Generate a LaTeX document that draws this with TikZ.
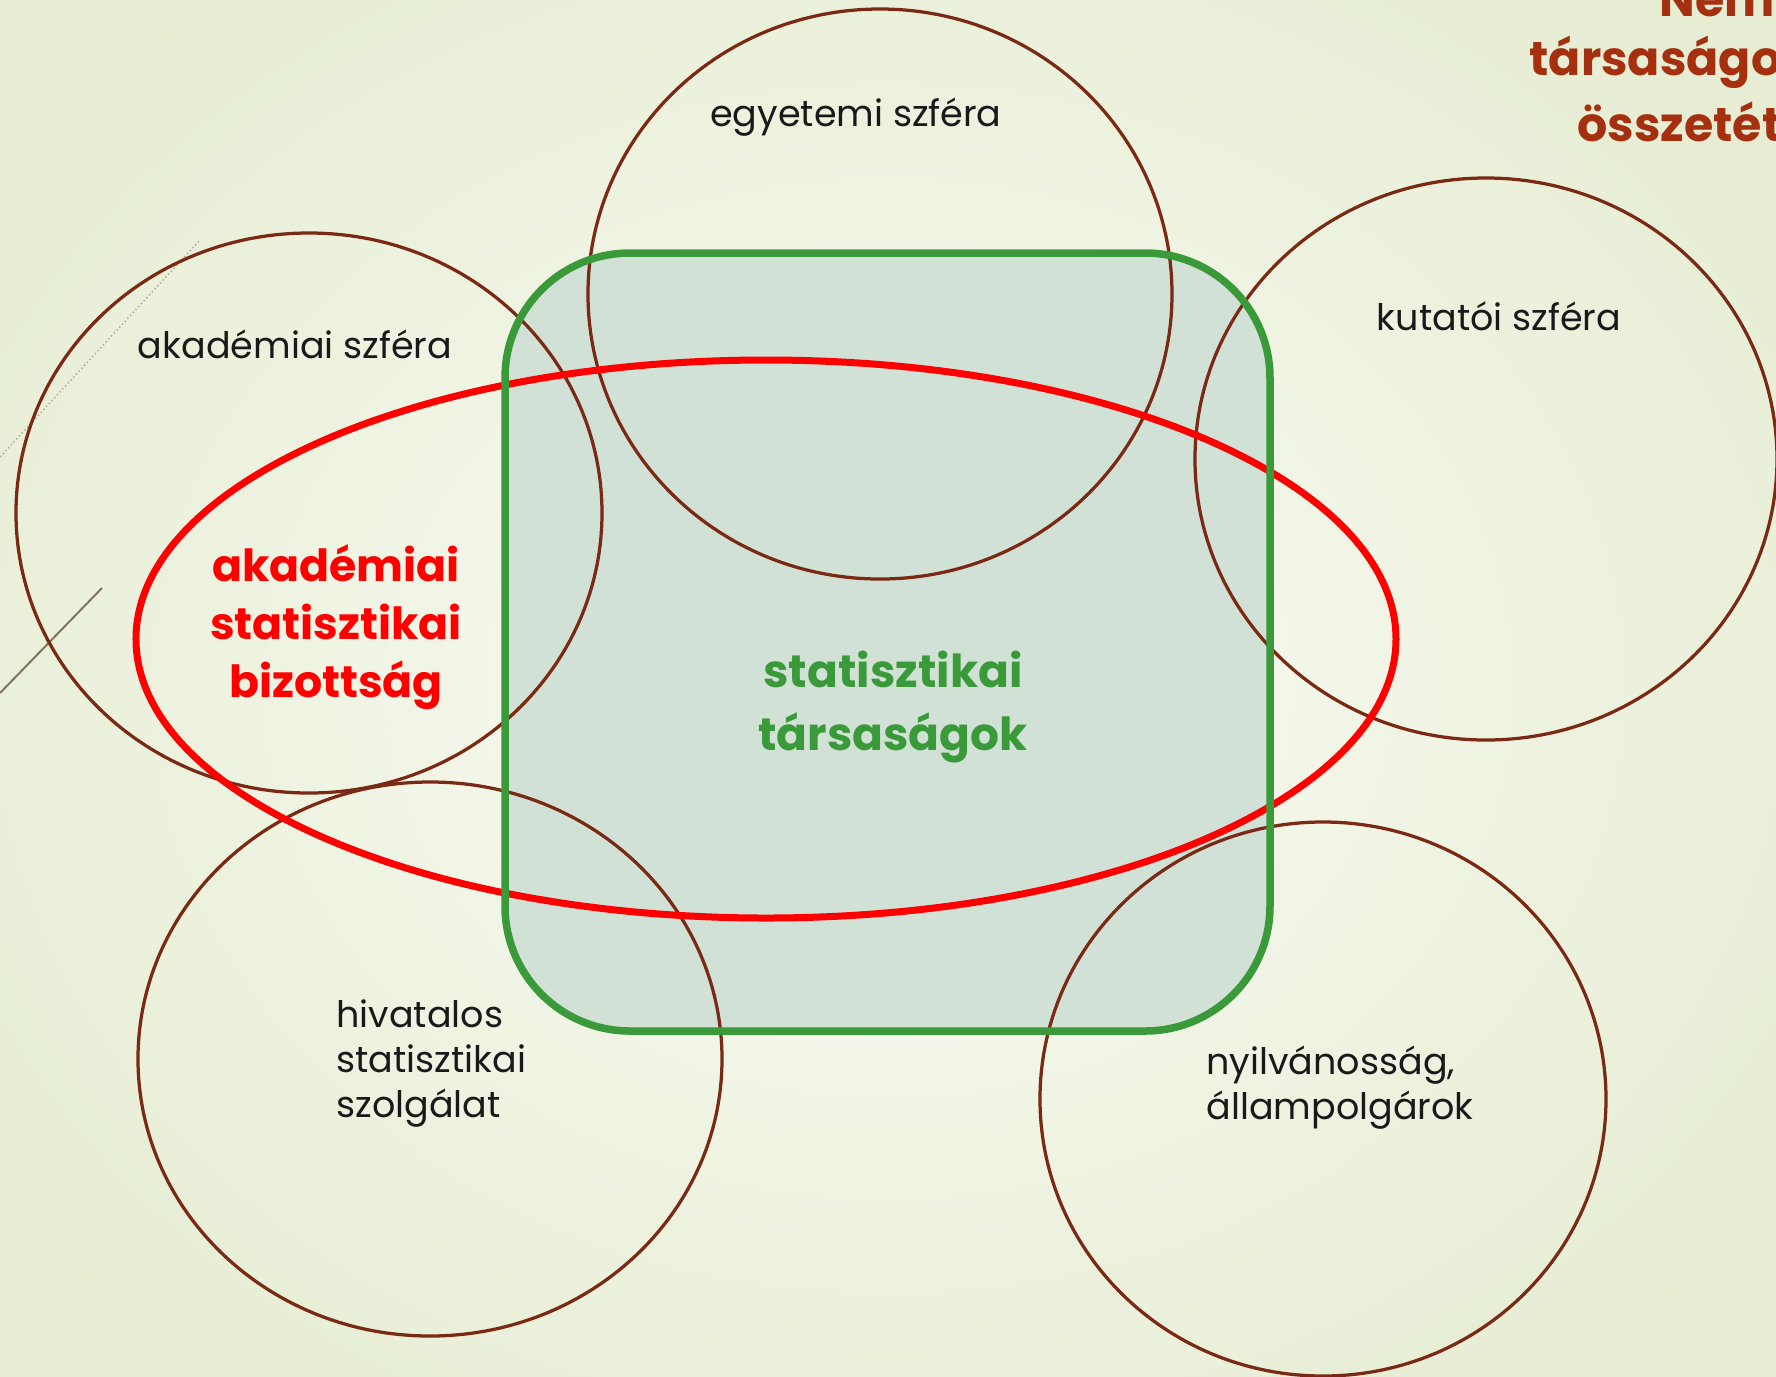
\documentclass[tikz,border=0pt]{standalone}
\usepackage{fontspec}
\setmainfont{Poppins}
\definecolor{bgout}{HTML}{E6EDD3}
\definecolor{bgin}{HTML}{FAFBF4}
\definecolor{circbrown}{HTML}{7A2A14}
\definecolor{setred}{HTML}{FF0000}
\definecolor{socgreen}{HTML}{3A9A3A}
\definecolor{socfill}{HTML}{D1E1D6}
\definecolor{titlebrown}{HTML}{A5300F}
\definecolor{decogray}{HTML}{7E7660}
\tikzset{
  sphere/.style={draw=circbrown, line width=1.3pt},
  plain/.style={font=\fontsize{14.6}{18}\selectfont, text=black!90, inner sep=0pt},
  redlbl/.style={font=\fontsize{17.7}{23.2}\selectfont\bfseries, text=setred, align=center, inner sep=0pt},
  greenlbl/.style={font=\fontsize{18.2}{25.2}\selectfont\bfseries, text=socgreen, align=center, inner sep=0pt},
  titlelbl/.style={font=\fontsize{19}{23.6}\selectfont\bfseries, text=titlebrown, inner sep=0pt, anchor=west},
}
\begin{document}
\begin{tikzpicture}[x=0.4pt,y=-0.4pt]
\useasboundingbox (0,0) rectangle (1776,1376);
% background
\shade[inner color=bgin, outer color=bgout] (-200,-200) rectangle (1976,1576);
% decorative lines at left
\draw[decogray!60, line width=0.6pt, densely dotted] (0,457) -- (200,240);
\draw[decogray, line width=0.8pt] (0,693) -- (102,588);
% societies fill
\fill[socfill, rounded corners=50pt] (505,253) rectangle (1270,1031);
% sphere circles
\draw[sphere] (880,294) ellipse [x radius=116.8pt, y radius=114pt];
\draw[sphere] (309,513) ellipse [x radius=117.2pt, y radius=112pt];
\draw[sphere] (1486,459) ellipse [x radius=116.4pt, y radius=112.4pt];
\draw[sphere] (430,1059) ellipse [x radius=116.8pt, y radius=110.8pt];
\draw[sphere] (1323,1099) ellipse [x radius=113.2pt, y radius=110.8pt];
% academic committee ellipse
\draw[setred, line width=2.8pt] (766,639) ellipse [x radius=252pt, y radius=111.6pt];
% societies border
\draw[socgreen, line width=3pt, rounded corners=50pt] (505,253) rectangle (1270,1031);
% labels
\node[plain] (egy) at (856,117) {egyetemi szféra};
\node[plain] (kut) at (1499,316) {kutatói szféra};
\node[plain] (aka) at (295,344) {akadémiai szféra};
\node[plain, anchor=north west, align=left] (hiv) at (336,999) {hivatalos\\statisztikai\\szolgálat};
\node[plain, anchor=north west, align=left] (nyi) at (1206,1045) {nyilvánosság,\\állampolgárok};
\node[redlbl] (asb) at (336,627) {akadémiai\\statisztikai\\bizottság};
\node[greenlbl] (st) at (893,707) {statisztikai\\társaságok};
% title (cut by the page edge)
\node[titlelbl] (t1) at (1659,0) {Nem};
\node[titlelbl] (t2) at (1529,62) {társaságo};
\node[titlelbl] (t3) at (1577,122) {összetét};
\end{tikzpicture}
\end{document}
